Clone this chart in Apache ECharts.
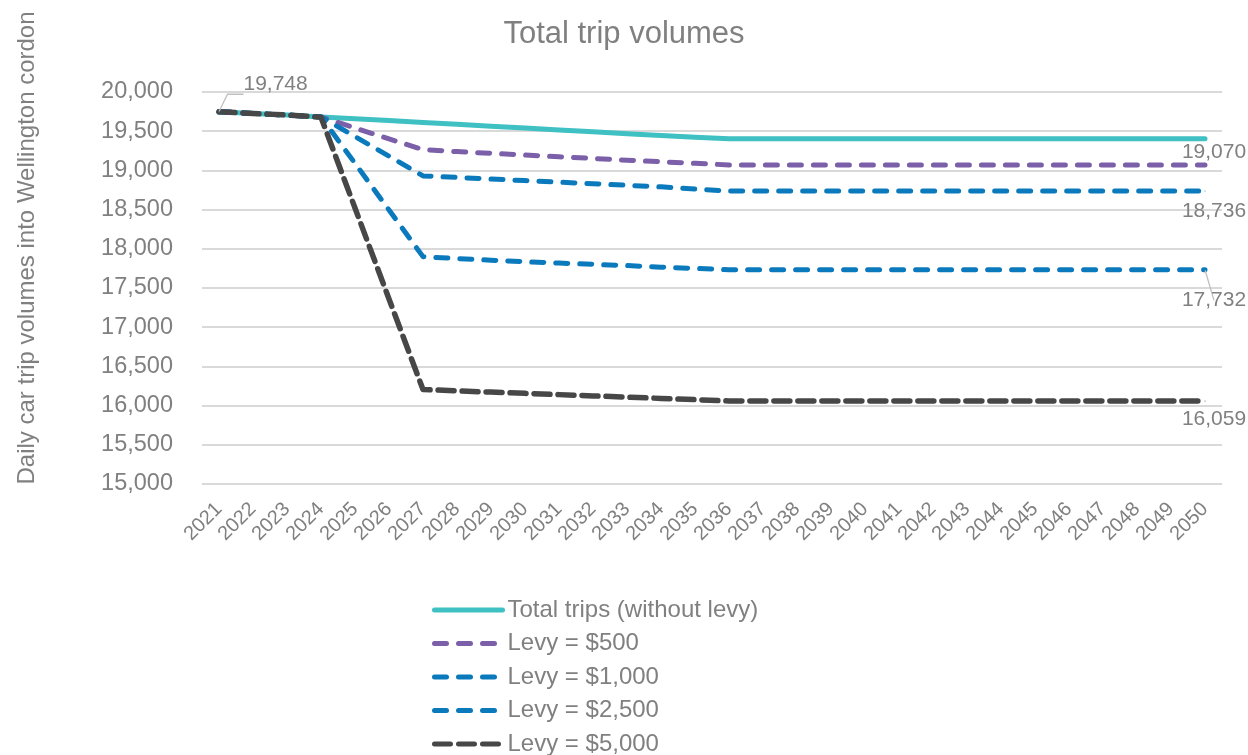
<!DOCTYPE html>
<html>
<head>
<meta charset="utf-8">
<script src="https://cdn.jsdelivr.net/npm/echarts@6/dist/echarts.min.js"></script>
<style>
  html, body { margin: 0; padding: 0; background: #fff; }
  #chart { width: 1248px; height: 755px; }
</style>
</head>
<body>
<div id="chart"></div>
<script>
// Years on the category axis
const years = [];
for (let y = 2021; y <= 2050; y++) years.push(String(y));

// Daily car trips into the Wellington cordon, by scenario
const totalTrips = [19748, 19726, 19706, 19682, 19660, 19636, 19612, 19588, 19563, 19540, 19516, 19492, 19468, 19446, 19424, 19405,
  19405, 19405, 19405, 19405, 19405, 19405, 19405, 19405, 19405, 19405, 19405, 19405, 19405, 19405];
const levy500 = [19748, 19726, 19706, 19682, 19540, 19402, 19265, 19240, 19218, 19196, 19174, 19152, 19130, 19110, 19090, 19070,
  19070, 19070, 19070, 19070, 19070, 19070, 19070, 19070, 19070, 19070, 19070, 19070, 19070, 19070];
const levy1000 = [19748, 19726, 19706, 19682, 19432, 19182, 18930, 18910, 18890, 18870, 18850, 18830, 18810, 18790, 18762, 18736,
  18736, 18736, 18736, 18736, 18736, 18736, 18736, 18736, 18736, 18736, 18736, 18736, 18736, 18736];
const levy2500 = [19748, 19726, 19706, 19682, 19090, 18495, 17900, 17875, 17855, 17835, 17818, 17802, 17786, 17766, 17750, 17732,
  17732, 17732, 17732, 17732, 17732, 17732, 17732, 17732, 17732, 17732, 17732, 17732, 17732, 17732];
const levy5000 = [19748, 19726, 19706, 19678, 18520, 17360, 16205, 16188, 16172, 16156, 16140, 16124, 16108, 16092, 16076, 16059,
  16059, 16059, 16059, 16059, 16059, 16059, 16059, 16059, 16059, 16059, 16059, 16059, 16059, 16059];

const seriesNames = ['Total trips (without levy)', 'Levy = $500', 'Levy = $1,000', 'Levy = $2,500', 'Levy = $5,000'];
const seriesValues = [totalTrips, levy500, levy1000, levy2500, levy5000];
const seriesColors = ['#3fc0c2', '#7b5fa8', '#0a7abd', '#0a7abd', '#474747'];

// Which points carry a value label: [seriesIndex, dataIndex, label placement]
const labelledPoints = [
  [0, 0, 'start'],
  [1, 29, 'above'],
  [2, 29, 'below'],
  [3, 29, 'leader'],
  [4, 29, 'below']
];

const TEXT = '#808080';
const FONT = 'Liberation Sans, Arial, sans-serif';
const fmt = v => v.toLocaleString('en-US');
const leaderStyle = { color: '#bfbfbf', width: 1.3 };

function lineStyleFor(si) {
  if (si === 0) return { width: 5, color: seriesColors[si], cap: 'round', join: 'round' };
  return {
    width: si === 4 ? 5.5 : 5,
    color: seriesColors[si],
    type: si === 4 ? [16, 8] : [12, 12],
    cap: 'round',
    join: 'round'
  };
}

function buildData(si) {
  return seriesValues[si].map((v, i) => {
    const hit = labelledPoints.find(p => p[0] === si && p[1] === i);
    if (!hit) return v;
    const kind = hit[2];
    const item = {
      value: v,
      symbol: 'circle',
      symbolSize: 1,
      label: { show: true, formatter: p => fmt(p.value), color: TEXT, fontSize: 21, fontFamily: FONT }
    };
    if (kind === 'start') {
      item.label.position = 'right';
      item.label.offset = [11, -28];
      item.label.padding = [0, 0, 0, 8];
      item.labelLine = { show: true, length2: 16, minTurnAngle: 0, lineStyle: leaderStyle };
    } else if (kind === 'above') {
      item.label.position = 'top';
      item.label.offset = [9, 3.5];
    } else if (kind === 'below') {
      item.label.position = 'bottom';
      item.label.offset = [9, si === 2 ? 4.5 : 2.5];
    } else if (kind === 'leader') {
      item.label.position = 'bottom';
      item.label.offset = [9, 14.5];
      item.labelLine = { show: true, lineStyle: leaderStyle };
    }
    return item;
  });
}

const series = seriesNames.map((name, si) => ({
  name,
  type: 'line',
  data: buildData(si),
  symbol: 'none',
  showSymbol: true,
  showAllSymbol: true,
  smooth: false,
  color: seriesColors[si],
  lineStyle: lineStyleFor(si),
  itemStyle: { color: seriesColors[si] },
  emphasis: { disabled: true },
  animation: false
}));

// Legend entries: line sample only, no marker
const legendData = seriesNames.map((name, si) => ({
  name,
  itemStyle: { opacity: 0 },
  lineStyle: Object.assign({}, lineStyleFor(si), { width: 5 })
}));

const chart = echarts.init(document.getElementById('chart'), null, { renderer: 'canvas' });
chart.setOption({
  animation: false,
  backgroundColor: '#ffffff',
  textStyle: { fontFamily: FONT },
  title: {
    text: 'Total trip volumes',
    left: 'center',
    top: 14,
    textStyle: { color: TEXT, fontSize: 31, fontWeight: 'normal', fontFamily: FONT }
  },
  grid: { left: 202, right: 26, top: 92, bottom: 271, containLabel: false },
  legend: {
    orient: 'vertical',
    left: 432,
    top: 598,
    height: 200,
    padding: 0,
    itemWidth: 68,
    itemHeight: 14,
    itemGap: 9.5,
    data: legendData,
    textStyle: { color: TEXT, fontSize: 24, lineHeight: 22, fontFamily: FONT }
  },
  xAxis: {
    type: 'category',
    data: years,
    boundaryGap: true,
    axisLine: { show: false },
    axisTick: { show: false },
    axisLabel: { rotate: 45, interval: 0, color: TEXT, fontSize: 20, fontFamily: FONT, margin: 22 }
  },
  yAxis: {
    type: 'value',
    min: 15000,
    max: 20000,
    interval: 500,
    name: 'Daily car trip volumes into Wellington cordon',
    nameLocation: 'middle',
    nameGap: 163,
    nameTextStyle: { color: TEXT, fontSize: 24, fontFamily: FONT, padding: [0, 0, 0, 80] },
    axisLine: { show: false },
    axisTick: { show: false },
    splitLine: { lineStyle: { color: '#d9d9d9', width: 2 } },
    axisLabel: { color: TEXT, fontSize: 23.5, fontFamily: FONT, margin: 29, formatter: v => fmt(v) }
  },
  series
});
</script>
</body>
</html>
